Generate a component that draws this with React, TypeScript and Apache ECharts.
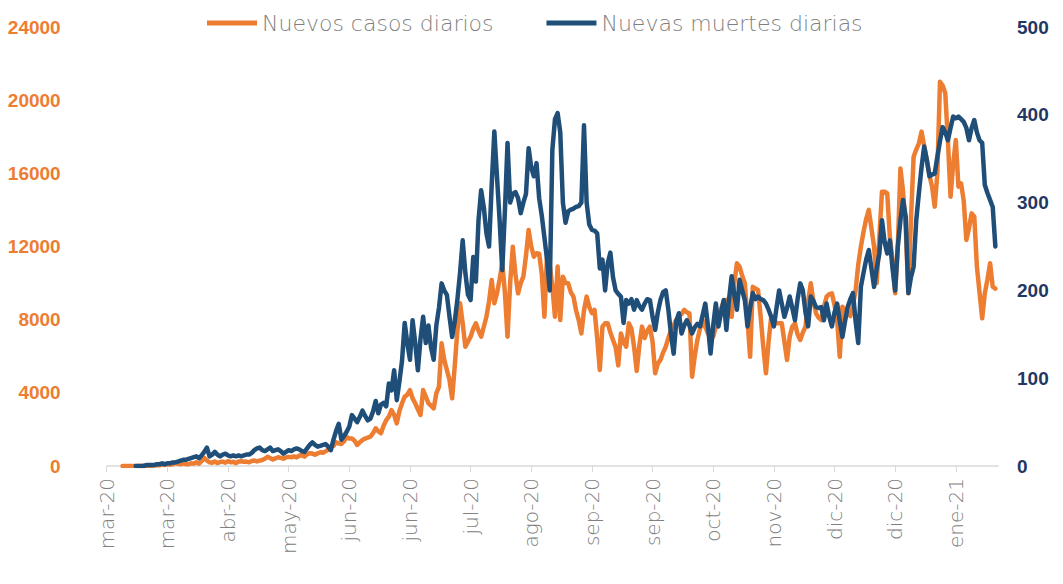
import React, { useEffect, useRef } from "react";
import * as echarts from "echarts";

// Daily categories starting 1 March 2020
const startYear = 2020;
const startMonth = 2; // March (0-based)
const dayCount = 339;
const monthNames = ["ene", "feb", "mar", "abr", "may", "jun", "jul", "ago", "sep", "oct", "nov", "dic"];
const categories: string[] = [];
for (let k = 0; k < dayCount; k++) {
  const d = new Date(Date.UTC(startYear, startMonth, 1 + k));
  categories.push(d.toISOString().slice(0, 10));
}

const seriesNames = ["Nuevos casos diarios", "Nuevas muertes diarias"];

const leftTicks = { min: 0, max: 24000, interval: 4000 };
const rightTicks = { min: 0, max: 500, interval: 100 };

const N = null;
// Nuevos casos diarios (daily new cases)
const cases = [
  N, N, N, N, N, N, 0, 0, 1, 1,
  2, 3, 4, 5, 8, 10, 15, 20, 30, 52,
  35, 75, 60, 100, 70, 95, 180, 120, 90, 140,
  100, 95, 150, 130, 200, 120, 270, 440, 300, 200,
  180, 250, 160, 220, 240, 180, 270, 200, 230, 150,
  250, 260, 230, 240, 200, 270, 300, 250, 290, 330,
  400, 510, 430, 360, 420, 480, 440, 400, 470, 500,
  480, 520, 470, 560, 600, 510, 640, 700, 680, 620,
  690, 750, 720, 800, 900, 1055, 1100, 1300, 1240, 1200,
  1350, 1600, 1500, 1510, 1380, 1150, 1300, 1420, 1500, 1550,
  1600, 1800, 2060, 1900, 1790, 2200, 2510, 2700, 3060, 2800,
  2330, 3000, 3430, 3790, 3900, 4150, 3700, 3430, 3100, 2790,
  4150, 3800, 3430, 3300, 3150, 3970, 4340, 6710, 5800, 5250,
  4700, 3700, 5500, 7440, 8900, 7800, 6520, 6800, 7070, 7500,
  7800, 7400, 7070, 7600, 8160, 9000, 10170, 8900, 9440, 10200,
  11080, 9500, 7070, 10000, 11990, 10500, 9440, 10000, 10350, 11500,
  12900, 12000, 11440, 11630, 11600, 10500, 8160, 11630, 11000, 9800,
  8160, 10900, 7980, 10350, 10000, 9990, 9500, 9260, 8500, 7980,
  7250, 8500, 9260, 8700, 8350, 8530, 7000, 5250, 7620, 7800,
  7800, 7300, 6890, 6500, 5500, 7250, 6800, 6520, 7800, 7500,
  6500, 5200, 6600, 7620, 7000, 7400, 7620, 6800, 5070, 5600,
  5800, 6200, 6520, 7000, 7440, 7700, 8000, 8160, 8300, 8530,
  8400, 8350, 4880, 6000, 6890, 7500, 7980, 7600, 7250, 7100,
  7070, 7600, 8350, 8600, 9000, 9080, 8600, 8160, 10000, 11080,
  10900, 10400, 9990, 8000, 5970, 9800, 9700, 9620, 8160, 6500,
  5070, 6800, 8160, 8000, 7800, 7800, 7800, 6800, 5800, 7070,
  7620, 7800, 7200, 6890, 7300, 7620, 9000, 9990, 9000, 8350,
  8100, 7980, 8700, 9260, 9400, 9440, 8800, 7980, 5970, 8710,
  8500, 8350, 8200, 8800, 9600, 11000, 11990, 12800, 13500, 14000,
  13000, 11990, 10000, 12500, 15000, 15000, 14900, 12500, 11260, 9440,
  12000, 16270, 15000, 13080, 9440, 13500, 16910, 17300, 17640, 18280,
  17500, 16730, 15900, 15270, 14180, 16000, 21010, 20800, 20380, 17820,
  14720, 16500, 17820, 15270, 15450, 14500, 12360, 13000, 13810, 13630,
  10900, 9500, 8070, 9440, 10200, 11080, 9800, 9700,
];

// Nuevas muertes diarias (daily new deaths)
const deaths = [
  N, N, N, N, N, N, N, N, N, N,
  N, 0, 0, 0, 0, 1, 1, 1, 1, 2,
  2, 3, 2, 3, 3, 4, 4, 5, 6, 7,
  7, 8, 9, 10, 11, 9, 12, 16, 21, 11,
  13, 16, 13, 11, 13, 14, 12, 11, 12, 11,
  12, 11, 12, 13, 13, 15, 18, 20, 21, 18,
  17, 19, 21, 17, 18, 19, 17, 14, 16, 18,
  17, 19, 20, 19, 17, 16, 20, 24, 27, 24,
  22, 23, 24, 25, 22, 18, 30, 40, 48, 30,
  34, 39, 45, 58, 54, 50, 56, 63, 57, 52,
  54, 62, 74, 60, 70, 72, 68, 94, 86, 109,
  75, 96, 120, 163, 140, 121, 166, 140, 109, 145,
  170, 140, 160, 135, 121, 160, 180, 208, 200, 195,
  170, 147, 165, 190, 220, 257, 220, 195, 189, 238,
  210, 280, 314, 295, 265, 250, 320, 381, 330, 280,
  223, 290, 368, 300, 310, 312, 305, 288, 300, 310,
  362, 340, 330, 345, 305, 285, 260, 235, 200, 360,
  395, 402, 380, 300, 277, 290, 292, 293, 295, 296,
  300, 388, 300, 275, 269, 268, 265, 225, 235, 200,
  231, 243, 215, 200, 196, 193, 163, 189, 185, 190,
  178, 189, 182, 178, 185, 190, 189, 170, 155, 175,
  189, 198, 200, 178, 150, 128, 165, 174, 151, 160,
  166, 160, 151, 158, 162, 159, 172, 185, 160, 128,
  160, 185, 159, 175, 189, 155, 190, 216, 195, 178,
  212, 200, 189, 159, 180, 197, 190, 193, 190, 189,
  185, 178, 170, 159, 180, 200, 185, 170, 180, 193,
  180, 166, 190, 208, 200, 175, 159, 193, 188, 181,
  180, 181, 166, 185, 170, 159, 175, 185, 165, 147,
  165, 181, 190, 197, 165, 140, 204, 220, 235, 246,
  225, 204, 225, 242, 280, 255, 242, 257, 225, 200,
  250, 280, 303, 284, 197, 215, 227, 280, 311, 340,
  364, 349, 330, 332, 333, 352, 370, 386, 380, 371,
  385, 398, 396, 398, 395, 392, 385, 371, 385, 394,
  380, 371, 368, 320, 311, 303, 295, 250,
];

const ORANGE = "#ED7D31";
const BLUE = "#1F4E79";
const NAVY = "#1F3864";
const GRAY = "#808080";
const AXISFONT = "'Liberation Sans', Arial, sans-serif";

function formatDate(value: string): string {
  const parts = value.split("-");
  return monthNames[Number(parts[1]) - 1] + "-" + parts[0].slice(2);
}

function plainNumber(value: number): string {
  return String(value);
}

export default function App() {
  const ref = useRef<HTMLDivElement>(null);
  useEffect(() => {
    if (!ref.current) return;
    const chart = echarts.init(ref.current, undefined, { renderer: "svg" });
    chart.setOption({
      animation: false,
      backgroundColor: "#ffffff",
      legend: {
        left: 202,
        top: 7,
        icon: "rect",
        itemWidth: 50,
        itemHeight: 5,
        itemGap: 53,
        textStyle: { fontFamily: "'DejaVu Sans', sans-serif", fontSize: 22, color: "#7f7f7f", fontWeight: 200 },
        data: seriesNames,
      },
      grid: { left: 106.7, right: 65, top: 27, bottom: 118, containLabel: false },
      xAxis: {
        type: "category",
        data: categories,
        boundaryGap: false,
        axisLine: { lineStyle: { color: "#d9d9d9", width: 1.5 } },
        axisTick: { interval: 22, length: 6, lineStyle: { color: "#d9d9d9" } },
        axisLabel: {
          interval: 22,
          rotate: 90,
          margin: 12,
          color: GRAY,
          fontSize: 20,
          fontFamily: "'DejaVu Sans', sans-serif",
          fontWeight: 200,
          formatter: formatDate,
        },
        splitLine: { show: false },
      },
      yAxis: [
        {
          type: "value",
          ...leftTicks,
          splitLine: { show: false },
          axisLine: { show: false },
          axisTick: { show: false },
          axisLabel: { color: ORANGE, fontSize: 19, fontWeight: "bold", margin: 46, fontFamily: AXISFONT, formatter: plainNumber },
        },
        {
          type: "value",
          position: "right",
          ...rightTicks,
          splitLine: { show: false },
          axisLine: { show: false },
          axisTick: { show: false },
          axisLabel: { color: NAVY, fontSize: 19, fontWeight: "bold", margin: 19, fontFamily: AXISFONT, formatter: plainNumber },
        },
      ],
      series: [
        {
          name: seriesNames[0],
          type: "line",
          yAxisIndex: 0,
          data: cases,
          symbol: "none",
          showSymbol: false,
          lineStyle: { color: ORANGE, width: 4.5, join: "round", cap: "round" },
          itemStyle: { color: ORANGE },
        },
        {
          name: seriesNames[1],
          type: "line",
          yAxisIndex: 1,
          data: deaths,
          symbol: "none",
          showSymbol: false,
          lineStyle: { color: BLUE, width: 4.5, join: "round", cap: "round" },
          itemStyle: { color: BLUE },
        },
      ],
    });
    return () => chart.dispose();
  }, []);
  return <div ref={ref} style={{ position: "absolute", left: 0, top: 0, width: 1063, height: 584 }} />;
}
